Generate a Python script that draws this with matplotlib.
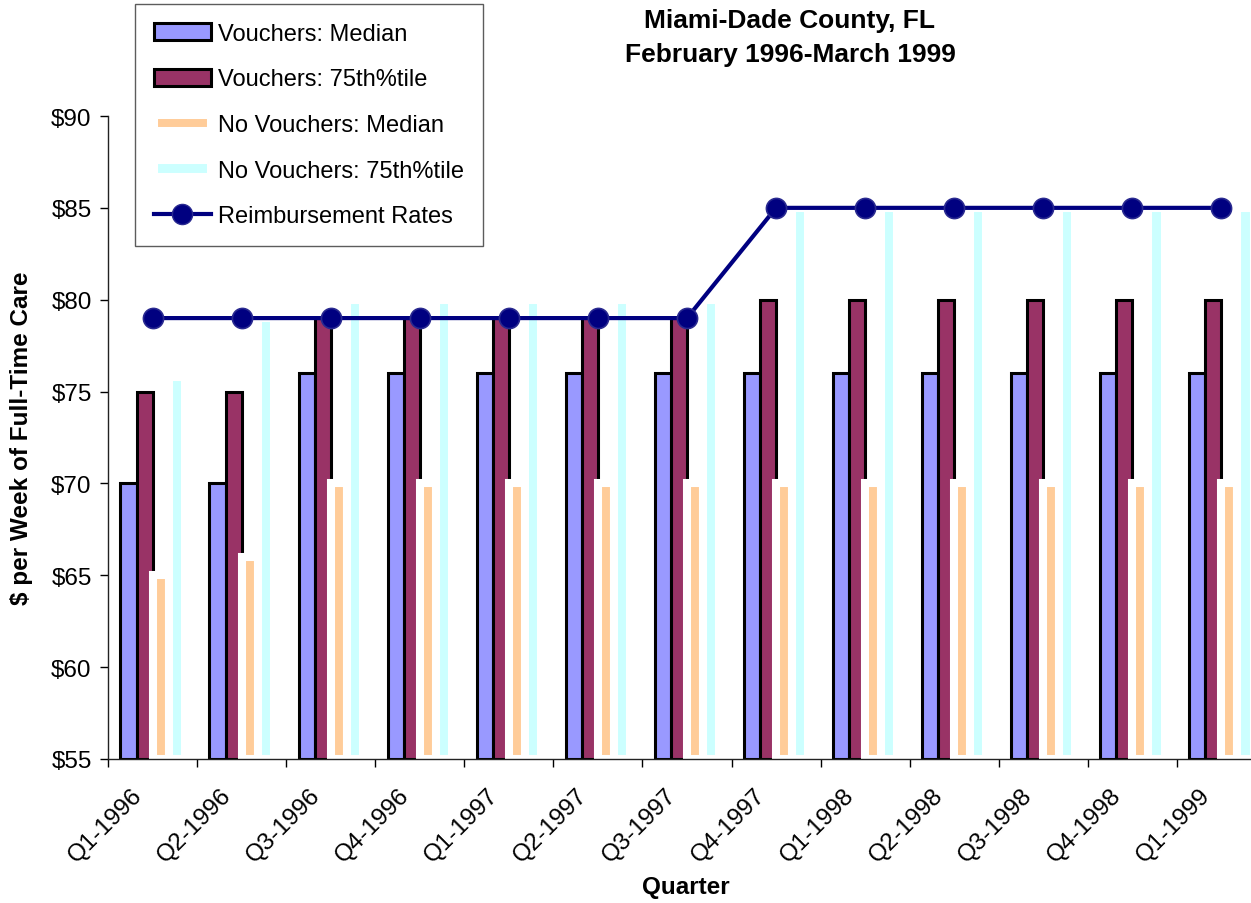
import matplotlib
matplotlib.use("Agg")
import matplotlib.pyplot as plt
import matplotlib.ticker as mtick
import matplotlib.transforms as mtrans
from matplotlib.patches import Patch
from matplotlib.lines import Line2D
import numpy as np

plt.rcParams.update({
    "font.family": "Liberation Sans",
    "font.size": 17,
})

quarters = ["Q1-1996", "Q2-1996", "Q3-1996", "Q4-1996", "Q1-1997", "Q2-1997",
            "Q3-1997", "Q4-1997", "Q1-1998", "Q2-1998", "Q3-1998", "Q4-1998",
            "Q1-1999"]
vouch_median = [70, 70, 76, 76, 76, 76, 76, 76, 76, 76, 76, 76, 76]
vouch_75th = [75, 75, 79, 79, 79, 79, 79, 80, 80, 80, 80, 80, 80]
novouch_median = [65, 66, 70, 70, 70, 70, 70, 70, 70, 70, 70, 70, 70]
novouch_75th = [75.8, 79, 80, 80, 80, 80, 80, 85, 85, 85, 85, 85, 85]
reimb_rates = [79, 79, 79, 79, 79, 79, 79, 85, 85, 85, 85, 85, 85]

C_VMED = "#9999FF"
C_V75 = "#993366"
C_NMED = "#FFCC99"
C_N75 = "#CCFFFF"
C_LINE = "#000080"

W, H = 1251, 904
fig = plt.figure(figsize=(W / 100, H / 100), dpi=100)
# plot area runs a little past the right edge, as in the cropped original
ax = fig.add_axes([108.3 / W, 1 - 760 / H, (1265.7 - 108.3) / W, (760 - 117) / H])

x = np.arange(len(quarters))
bw = 1 / 5.5
ax.bar(x - 1.5 * bw, [v - 55 for v in vouch_median], bw, bottom=55,
       color=C_VMED, edgecolor="black", linewidth=2.2, zorder=2)
ax.bar(x - 0.5 * bw, [v - 55 for v in vouch_75th], bw, bottom=55,
       color=C_V75, edgecolor="black", linewidth=2.2, zorder=2)
ax.bar(x + 0.5 * bw, [v - 55 for v in novouch_median], bw, bottom=55,
       color=C_NMED, edgecolor="white", linewidth=5.8, zorder=3)
ax.bar(x + 1.5 * bw, [v - 55 for v in novouch_75th], bw, bottom=55,
       color=C_N75, edgecolor="white", linewidth=5.8, zorder=3)
ax.plot(x, reimb_rates, color=C_LINE, linewidth=3, marker="o", markersize=14.5,
        markerfacecolor=C_LINE, markeredgecolor="#2a2a90", markeredgewidth=1.2,
        zorder=5, clip_on=False)

ax.set_xlim(-0.5, len(quarters) - 0.5)
ax.set_ylim(55, 90)
ax.yaxis.set_major_locator(mtick.MultipleLocator(5))
ax.yaxis.set_major_formatter(mtick.FuncFormatter(lambda v, _: f"${int(v)}"))
ax.set_xticks(np.arange(-0.5, len(quarters)), [""] * (len(quarters) + 1))
ax.set_xticks(x, quarters, minor=True)
ax.tick_params(axis="x", which="minor", length=0, pad=6, labelsize=17.5)
ax.tick_params(axis="x", which="major", length=6, direction="out", width=1)
ax.tick_params(axis="y", length=6, direction="out", width=1, pad=6, labelsize=17.5)
shift = mtrans.ScaledTranslation(-0.22, -0.16, fig.dpi_scale_trans)
for lab in ax.get_xticklabels(minor=True):
    lab.set_rotation(45)
    lab.set_ha("right")
    lab.set_rotation_mode("anchor")
    lab.set_transform(lab.get_transform() + shift)
for side in ("top", "right"):
    ax.spines[side].set_visible(False)
for side in ("left", "bottom"):
    ax.spines[side].set_color("#222222")
    ax.spines[side].set_linewidth(1)
    ax.spines[side].set_zorder(6)

fig.text(686 / W, 1 - 888 / H, "Quarter", ha="center", va="center",
         fontsize=17.5, fontweight="bold")
fig.text(22 / W, 1 - 438 / H, "$ per Week of Full-Time Care", ha="center",
         va="center", rotation=90, fontsize=17.5, fontweight="bold")
fig.text(790 / W, 1 - 28 / H, "Miami-Dade County, FL", ha="center",
         va="baseline", fontsize=19, fontweight="bold")
fig.text(790 / W, 1 - 62 / H, "February 1996-March 1999", ha="center",
         va="baseline", fontsize=19, fontweight="bold")

handles = [
    Patch(facecolor=C_VMED, edgecolor="black", linewidth=2.2),
    Patch(facecolor=C_V75, edgecolor="black", linewidth=2.2),
    Patch(facecolor=C_NMED, edgecolor="white", linewidth=5.8),
    Patch(facecolor=C_N75, edgecolor="white", linewidth=5.8),
    Line2D([], [], color=C_LINE, linewidth=3, marker="o", markersize=14.5,
           markerfacecolor=C_LINE, markeredgecolor="#2a2a90"),
]
labels = ["Vouchers: Median", "Vouchers: 75th%tile", "No Vouchers: Median",
          "No Vouchers: 75th%tile", "Reimbursement Rates"]
leg = fig.legend(handles, labels, loc="upper left",
                 bbox_to_anchor=(135 / W, 1 - 5 / H), borderaxespad=0,
                 fontsize=17, frameon=True, fancybox=False, shadow=False,
                 handlelength=2.4, handletextpad=0.3, labelspacing=1.0,
                 borderpad=0.8)
leg.get_frame().set_edgecolor("#333333")
leg.get_frame().set_linewidth(1)
leg.set_zorder(10)

fig.savefig("out.png", dpi=100)
